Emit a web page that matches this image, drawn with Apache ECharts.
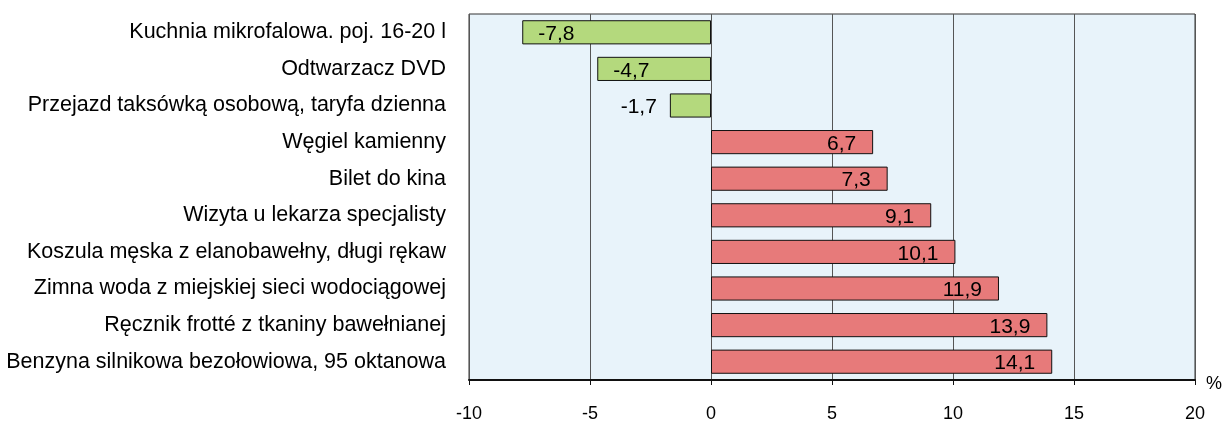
<!DOCTYPE html>
<html>
<head>
<meta charset="utf-8">
<script src="https://cdn.jsdelivr.net/npm/echarts@6/dist/echarts.min.js"></script>
<style>
html,body{margin:0;padding:0;background:#fff;}
#c{width:1227px;height:423px;}
</style>
</head>
<body>
<div id="c"></div>
<script>
const categories = [
  "Kuchnia mikrofalowa. poj. 16-20 l",
  "Odtwarzacz DVD",
  "Przejazd taksówką osobową, taryfa dzienna",
  "Węgiel kamienny",
  "Bilet do kina",
  "Wizyta u lekarza specjalisty",
  "Koszula męska z elanobawełny, długi rękaw",
  "Zimna woda z miejskiej sieci wodociągowej",
  "Ręcznik frotté z tkaniny bawełnianej",
  "Benzyna silnikowa bezołowiowa, 95 oktanowa"
];
const values = [-7.8, -4.7, -1.7, 6.7, 7.3, 9.1, 10.1, 11.9, 13.9, 14.1];
const xTicks = [-10, -5, 0, 5, 10, 15, 20];

const font = '"Liberation Sans", Arial, sans-serif';
const fmt = v => String(v).replace('.', ',');

const data = values.map(v => {
  let pos, dist;
  if (v >= 0) { pos = 'insideRight'; dist = 17; }
  else if (v > -3) { pos = 'left'; dist = 13; }
  else { pos = 'insideLeft'; dist = 16; }
  return {
    value: v,
    itemStyle: { color: v < 0 ? '#B4D97D' : '#E77A7A' },
    label: { position: pos, distance: dist, offset: [0, 2] }
  };
});

const chart = echarts.init(document.getElementById('c'), null, {renderer: 'canvas'});
chart.setOption({
  animation: false,
  grid: {
    left: 469, right: 32, top: 14, bottom: 43,
    show: true, backgroundColor: '#E8F3FA', borderColor: '#333', borderWidth: 1
  },
  xAxis: {
    type: 'value', min: xTicks[0], max: xTicks[xTicks.length - 1], interval: 5,
    name: '%', nameLocation: 'end', nameGap: 11,
    nameTextStyle: { fontFamily: font, fontSize: 18, color: '#000', verticalAlign: 'top', padding: [-5, 0, 0, 0] },
    axisLine: { show: true, onZero: false, lineStyle: { color: '#111', width: 2 } },
    axisTick: { show: true, length: 5, lineStyle: { color: '#111', width: 1 } },
    axisLabel: { fontFamily: font, fontSize: 18, color: '#000', margin: 25,
      formatter: v => String(v) },
    splitLine: { show: true, lineStyle: { color: '#555', width: 1 } }
  },
  yAxis: {
    type: 'category', data: categories, inverse: true,
    axisLine: { show: false },
    axisTick: { show: false },
    axisLabel: { fontFamily: font, fontSize: 21.5, color: '#000', margin: 23 }
  },
  series: [{
    type: 'bar',
    data: data,
    barCategoryGap: '34%',
    itemStyle: { borderColor: '#111', borderWidth: 1 },
    label: {
      show: true, fontFamily: font, fontSize: 21, color: '#000',
      formatter: p => fmt(p.value)
    }
  }]
});
</script>
</body>
</html>
